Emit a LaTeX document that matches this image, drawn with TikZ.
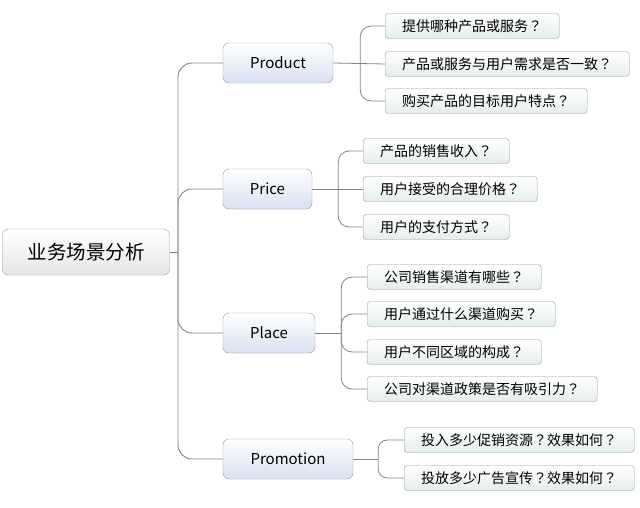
\documentclass[tikz,border=0pt]{standalone}
\usepackage{fontspec}
\setmainfont{Noto Sans CJK SC}
\newfontfamily\tcfont{Noto Sans CJK TC}
\newcommand\qm{{\tcfont ？}}
\usetikzlibrary{positioning}
\definecolor{LinkGrey}{RGB}{132,132,132}
\definecolor{BoxEdge}{RGB}{150,152,156}
\definecolor{TopicBlue}{RGB}{216,224,242}
\definecolor{LeafMint}{RGB}{228,238,234}
\definecolor{RootGrey}{RGB}{230,230,230}
\tikzset{
  link/.style={draw=LinkGrey,line width=0.9pt,rounded corners=14pt},
  sublink/.style={draw=LinkGrey,line width=0.8pt,rounded corners=11pt},
  rootbox/.style={draw=BoxEdge,top color=white,bottom color=RootGrey,rounded corners=6pt,
    minimum width=167pt,minimum height=46pt,font=\fontsize{19.5}{22}\selectfont},
  topic/.style={draw=BoxEdge,top color=white,bottom color=TopicBlue,rounded corners=6pt,
    minimum height=40pt,font=\fontsize{15}{18}\selectfont},
  leaf/.style={draw=BoxEdge,top color=white,bottom color=LeafMint,rounded corners=3pt,
    minimum height=25pt,anchor=west,inner xsep=17pt,font=\fontsize{14}{16}\selectfont}
}

\begin{document}
\begin{tikzpicture}[x=1pt,y=-1pt]
  \useasboundingbox (0,0) rectangle (640,508);
  \node[rootbox] (root) at (86,252) {业务场景分析};
  \coordinate (hub) at (178,252);

  \node[topic,minimum width=110pt] (product) at (278,63) {Product};
  \node[topic,minimum width=89pt] (price) at (267.5,189) {Price};
  \node[topic,minimum width=92pt] (place) at (269,333) {Place};
  \node[topic,minimum width=130pt] (promotion) at (288,459) {Promotion};

  % Product
  \node[leaf] (prod1) at (385,26) {提供哪种产品或服务\qm};
  \node[leaf] (prod2) at (385,64) {产品或服务与用户需求是否一致\qm};
  \node[leaf] (prod3) at (385,101) {购买产品的目标用户特点\qm};
  % Price
  \node[leaf] (price1) at (363,151) {产品的销售收入\qm};
  \node[leaf] (price2) at (363,189) {用户接受的合理价格\qm};
  \node[leaf] (price3) at (363,227) {用户的支付方式\qm};
  % Place
  \node[leaf] (place1) at (367,277) {公司销售渠道有哪些\qm};
  \node[leaf] (place2) at (367,314) {用户通过什么渠道购买\qm};
  \node[leaf] (place3) at (367,352) {用户不同区域的构成\qm};
  \node[leaf] (place4) at (367,389) {公司对渠道政策是否有吸引力\qm};
  % Promotion
  \node[leaf] (promo1) at (404,440) {投入多少促销资源\qm 效果如何\qm};
  \node[leaf] (promo2) at (404,478) {投放多少广告宣传\qm 效果如何\qm};

  \draw[link] (root.east) -- (hub);
  \foreach \t in {product,price,place,promotion}
    \draw[link] (hub) |- (\t.west);

  \coordinate (prodfork) at ([xshift=27pt]product.east);
  \draw[sublink] (product.east) -- (prod2.west);
  \foreach \l in {prod1,prod3}
    \draw[sublink] (prodfork) |- (\l.west);

  \coordinate (pricefork) at ([xshift=26pt]price.east);
  \draw[sublink] (price.east) -- (price2.west);
  \foreach \l in {price1,price3}
    \draw[sublink] (pricefork) |- (\l.west);

  \coordinate (placefork) at ([xshift=26pt]place.east);
  \draw[sublink] (place.east) -- (placefork);
  \foreach \l in {place1,place2,place3,place4}
    \draw[sublink] (placefork) |- (\l.west);

  \coordinate (promofork) at ([xshift=25pt]promotion.east);
  \draw[sublink] (promotion.east) -- (promofork);
  \foreach \l in {promo1,promo2}
    \draw[sublink,rounded corners=9pt] (promofork) |- (\l.west);
\end{tikzpicture}
\end{document}
